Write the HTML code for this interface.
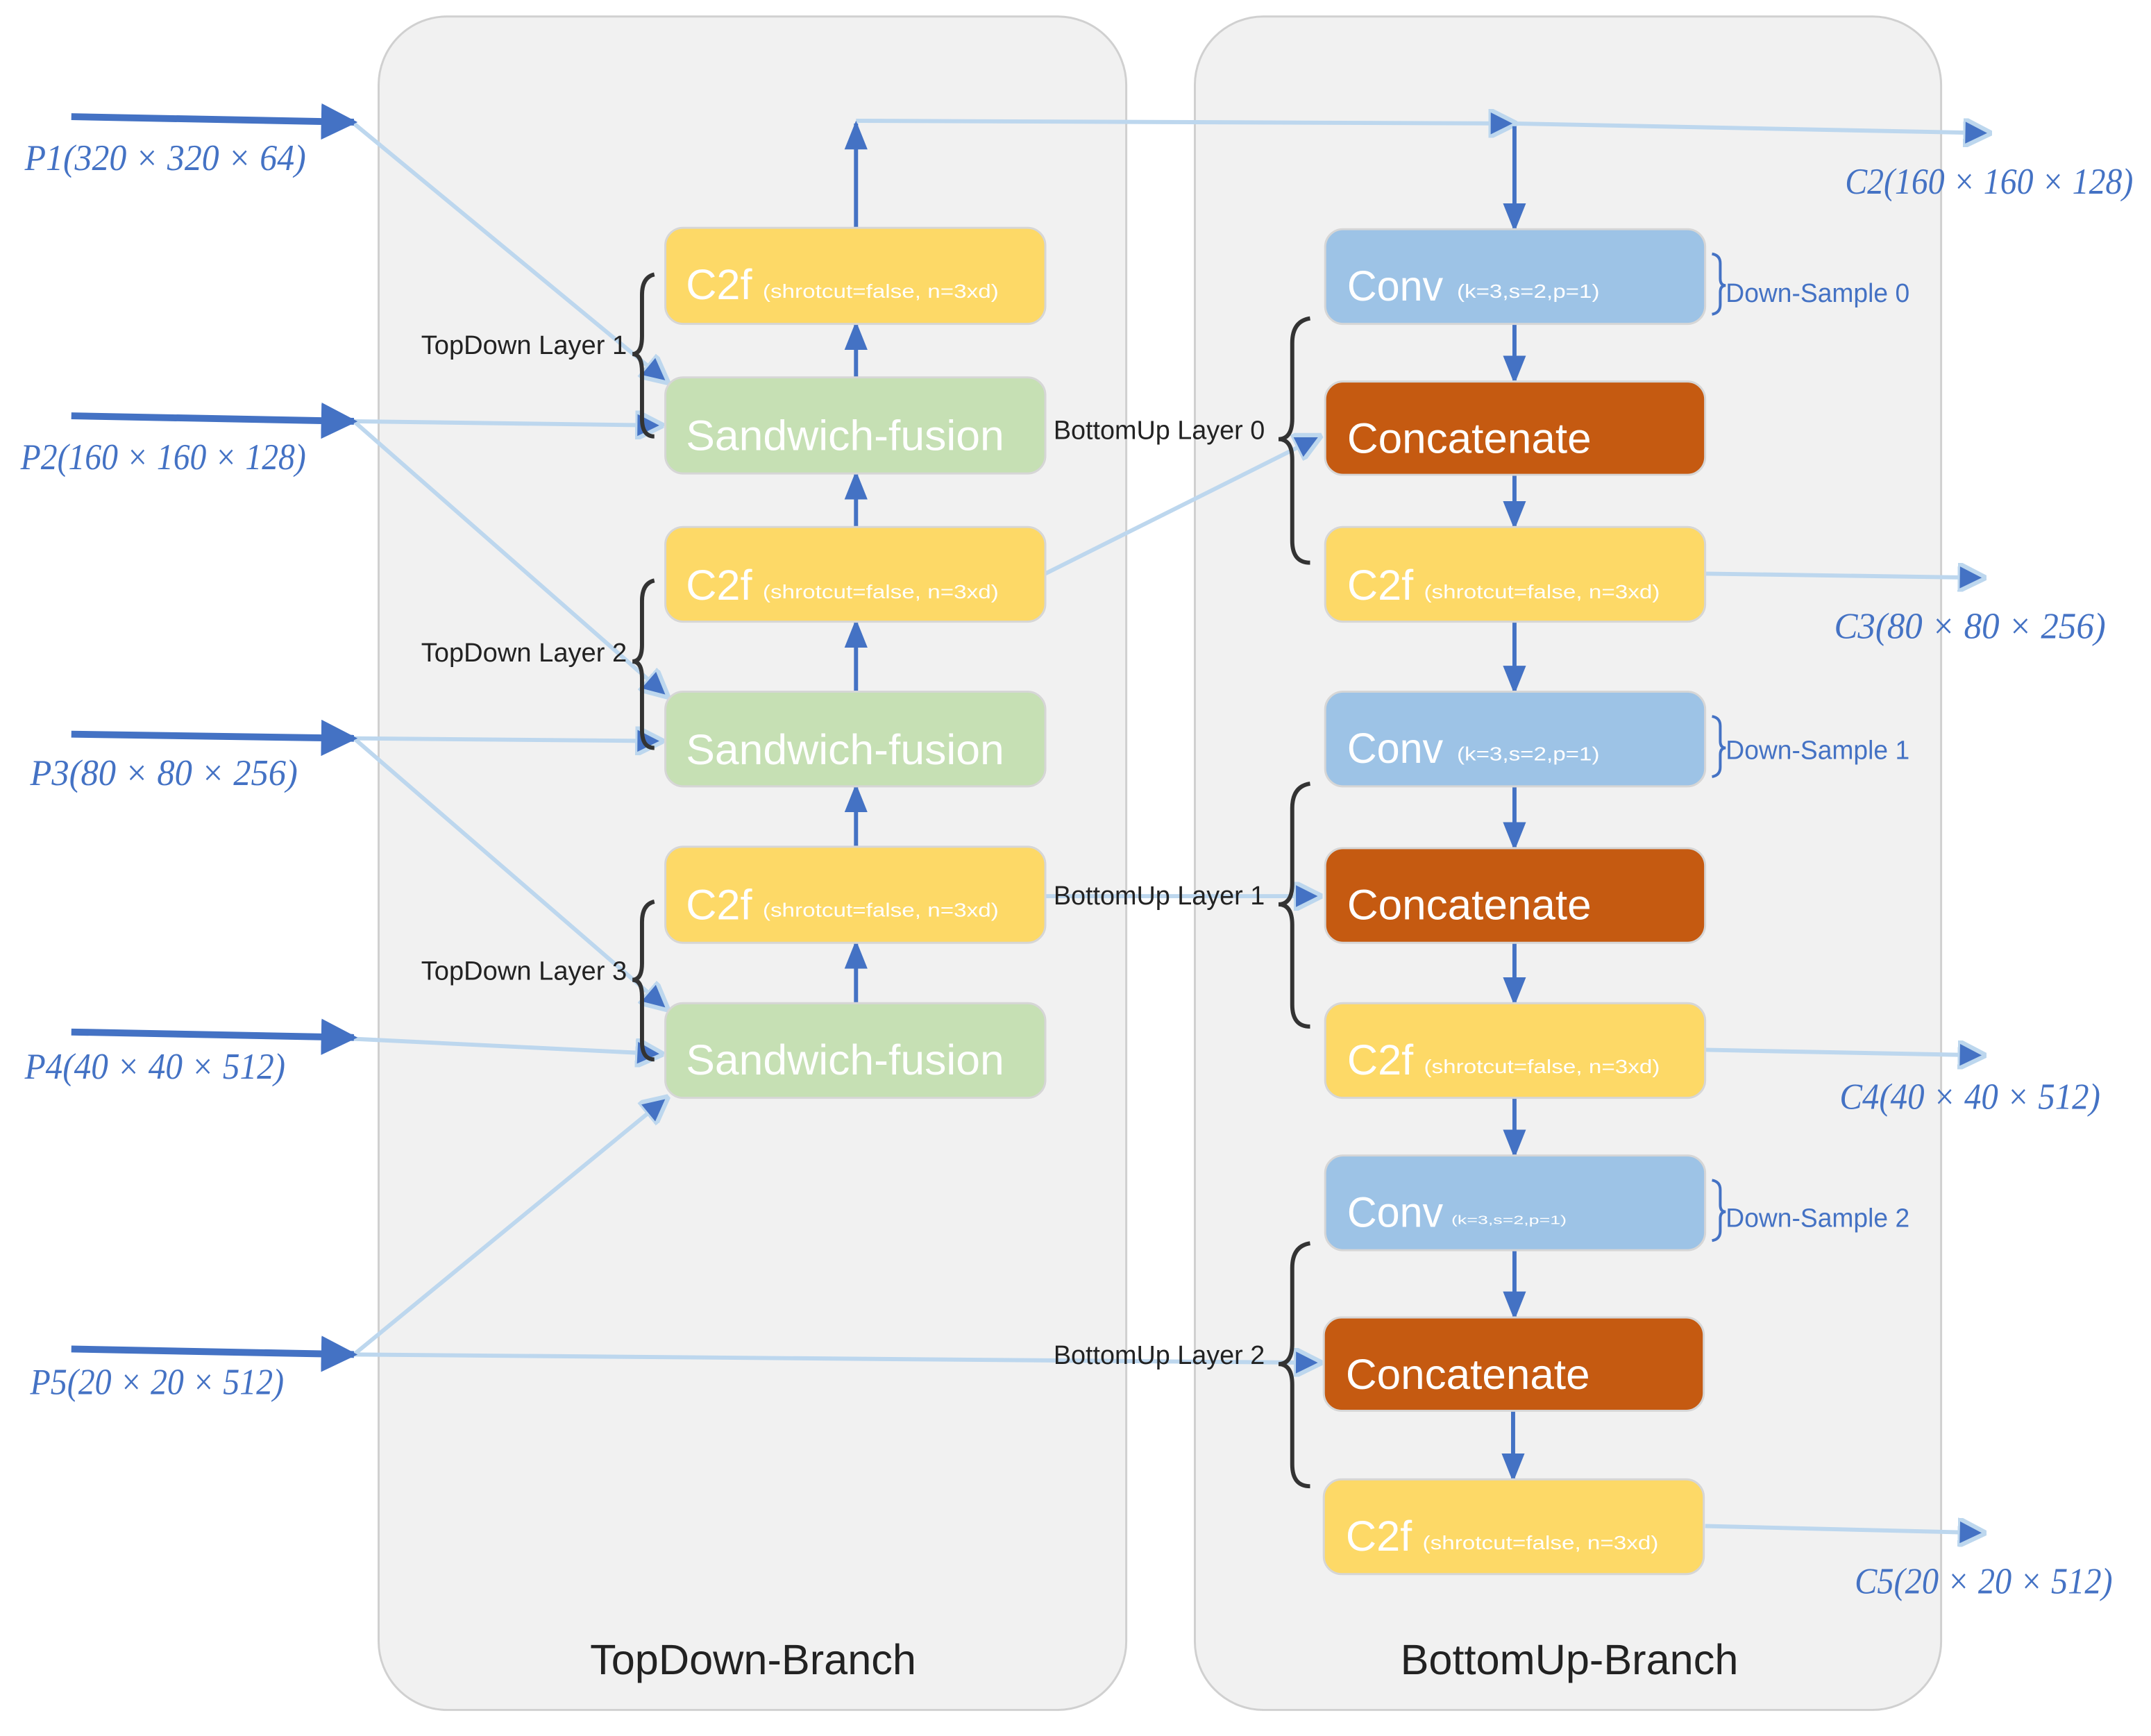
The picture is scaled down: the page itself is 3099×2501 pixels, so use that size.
<!DOCTYPE html>
<html><head><meta charset="utf-8"><style>html,body{margin:0;padding:0;background:#fff}svg{display:block}</style></head>
<body>
<svg width="3099" height="2501" viewBox="0 0 1568 1265" preserveAspectRatio="none" xmlns="http://www.w3.org/2000/svg" font-family="Liberation Sans, sans-serif">
<defs>
<marker id="ad" viewBox="0 0 10 10" refX="9" refY="5" markerWidth="5.3" markerHeight="5.3" orient="auto" markerUnits="strokeWidth"><path d="M0,0 L10,5 L0,10 z" fill="#4472c4"/></marker>
<marker id="al" viewBox="0 0 10 10" refX="9" refY="5" markerWidth="7" markerHeight="7" orient="auto" markerUnits="strokeWidth"><path d="M0,0 L10,5 L0,10 z" fill="#4472c4" stroke="#bdd7ee" stroke-width="1.5"/></marker>
<marker id="ab" viewBox="0 0 10 10" refX="9" refY="5" markerWidth="7" markerHeight="7" orient="auto" markerUnits="strokeWidth"><path d="M0,1 L10,5 L0,9 z" fill="#4472c4"/></marker>
</defs>
<rect x="276" y="12" width="545" height="1234" rx="50" fill="#f1f1f1" stroke="#d0d0d0" stroke-width="1.5"/>
<rect x="871" y="12" width="544" height="1234" rx="50" fill="#f1f1f1" stroke="#d0d0d0" stroke-width="1.5"/>
<text x="549" y="1220" font-size="31" text-anchor="middle" fill="#222">TopDown-Branch</text>
<text x="1144" y="1220" font-size="31" text-anchor="middle" fill="#222">BottomUp-Branch</text>

<g stroke="#bdd7ee" stroke-width="3" fill="none" marker-end="url(#al)">
<line x1="258" y1="90" x2="486" y2="278"/>
<line x1="258" y1="307" x2="482" y2="310"/>
<line x1="258" y1="307" x2="486" y2="507"/>
<line x1="258" y1="538" x2="482" y2="540"/>
<line x1="258" y1="538" x2="486" y2="735"/>
<line x1="258" y1="757" x2="482" y2="768"/>
<line x1="258" y1="987" x2="486" y2="800"/>
<line x1="258" y1="987" x2="962" y2="993"/>
<line x1="762" y1="418" x2="962" y2="318"/>
<line x1="762" y1="653" x2="962" y2="653"/>
<line x1="624" y1="88" x2="1104" y2="90"/>
<line x1="1104" y1="90" x2="1450" y2="97"/>
<line x1="1243" y1="418" x2="1446" y2="421"/>
<line x1="1243" y1="765" x2="1446" y2="769"/>
<line x1="1243" y1="1112" x2="1446" y2="1117"/>
</g>

<g stroke="#4472c4" stroke-width="5" marker-end="url(#ad)">
<line x1="52" y1="85" x2="258" y2="89"/>
<line x1="52" y1="303" x2="258" y2="307"/>
<line x1="52" y1="535" x2="258" y2="538"/>
<line x1="52" y1="752" x2="258" y2="756"/>
<line x1="52" y1="983" x2="258" y2="987"/>
</g>
<g fill="#4472c4" font-family="Liberation Serif, serif" font-style="italic" font-size="27">
<text x="18" y="124" textLength="205" lengthAdjust="spacingAndGlyphs">P1(320 × 320 × 64)</text>
<text x="15" y="342" textLength="208" lengthAdjust="spacingAndGlyphs">P2(160 × 160 × 128)</text>
<text x="22" y="572" textLength="195" lengthAdjust="spacingAndGlyphs">P3(80 × 80 × 256)</text>
<text x="18" y="786" textLength="190" lengthAdjust="spacingAndGlyphs">P4(40 × 40 × 512)</text>
<text x="22" y="1016" textLength="185" lengthAdjust="spacingAndGlyphs">P5(20 × 20 × 512)</text>
<text x="1345" y="141" textLength="210" lengthAdjust="spacingAndGlyphs">C2(160 × 160 × 128)</text>
<text x="1337" y="465" textLength="198" lengthAdjust="spacingAndGlyphs">C3(80 × 80 × 256)</text>
<text x="1341" y="808" textLength="190" lengthAdjust="spacingAndGlyphs">C4(40 × 40 × 512)</text>
<text x="1352" y="1161" textLength="188" lengthAdjust="spacingAndGlyphs">C5(20 × 20 × 512)</text>
</g>

<g stroke="#4472c4" stroke-width="3" marker-end="url(#ab)">
<line x1="624" y1="166" x2="624" y2="90"/>
<line x1="624" y1="275" x2="624" y2="236"/>
<line x1="624" y1="384" x2="624" y2="345"/>
<line x1="624" y1="504" x2="624" y2="453"/>
<line x1="624" y1="617" x2="624" y2="573"/>
<line x1="624" y1="731" x2="624" y2="687"/>
<line x1="1104" y1="92" x2="1104" y2="167"/>
<line x1="1104" y1="236" x2="1104" y2="278"/>
<line x1="1104" y1="346" x2="1104" y2="384"/>
<line x1="1104" y1="453" x2="1104" y2="504"/>
<line x1="1104" y1="573" x2="1104" y2="618"/>
<line x1="1104" y1="687" x2="1104" y2="731"/>
<line x1="1104" y1="800" x2="1104" y2="842"/>
<line x1="1104" y1="911" x2="1104" y2="960"/>
<line x1="1103" y1="1028" x2="1103" y2="1078"/>
</g>

<g stroke="#d6d6d6" stroke-width="1.5">
<rect x="485" y="166" width="277" height="70" rx="13" fill="#fdd967"/>
<rect x="485" y="275" width="277" height="70" rx="13" fill="#c6e0b4"/>
<rect x="485" y="384" width="277" height="69" rx="13" fill="#fdd967"/>
<rect x="485" y="504" width="277" height="69" rx="13" fill="#c6e0b4"/>
<rect x="485" y="617" width="277" height="70" rx="13" fill="#fdd967"/>
<rect x="485" y="731" width="277" height="69" rx="13" fill="#c6e0b4"/>
<rect x="966" y="167" width="277" height="69" rx="13" fill="#9dc3e6"/>
<rect x="966" y="278" width="277" height="68" rx="13" fill="#c55a11"/>
<rect x="966" y="384" width="277" height="69" rx="13" fill="#fdd967"/>
<rect x="966" y="504" width="277" height="69" rx="13" fill="#9dc3e6"/>
<rect x="966" y="618" width="277" height="69" rx="13" fill="#c55a11"/>
<rect x="966" y="731" width="277" height="69" rx="13" fill="#fdd967"/>
<rect x="966" y="842" width="277" height="69" rx="13" fill="#9dc3e6"/>
<rect x="965" y="960" width="277" height="68" rx="13" fill="#c55a11"/>
<rect x="965" y="1078" width="277" height="69" rx="13" fill="#fdd967"/>
</g>
<g fill="#fff">
<g font-size="31">
<text x="500" y="218">C2f</text>
<text x="500" y="437">C2f</text>
<text x="500" y="670">C2f</text>
<text x="500" y="328" textLength="232" lengthAdjust="spacingAndGlyphs">Sandwich-fusion</text>
<text x="500" y="557" textLength="232" lengthAdjust="spacingAndGlyphs">Sandwich-fusion</text>
<text x="500" y="783" textLength="232" lengthAdjust="spacingAndGlyphs">Sandwich-fusion</text>
<text x="982" y="219" textLength="70" lengthAdjust="spacingAndGlyphs">Conv</text>
<text x="982" y="556" textLength="70" lengthAdjust="spacingAndGlyphs">Conv</text>
<text x="982" y="894" textLength="70" lengthAdjust="spacingAndGlyphs">Conv</text>
<text x="982" y="330" textLength="178" lengthAdjust="spacingAndGlyphs">Concatenate</text>
<text x="982" y="670" textLength="178" lengthAdjust="spacingAndGlyphs">Concatenate</text>
<text x="981" y="1012" textLength="178" lengthAdjust="spacingAndGlyphs">Concatenate</text>
<text x="982" y="437">C2f</text>
<text x="982" y="783">C2f</text>
<text x="981" y="1130">C2f</text>
</g>
<g font-size="14">
<text x="556" y="217" textLength="172" lengthAdjust="spacingAndGlyphs">(shrotcut=false, n=3xd)</text>
<text x="556" y="436" textLength="172" lengthAdjust="spacingAndGlyphs">(shrotcut=false, n=3xd)</text>
<text x="556" y="668" textLength="172" lengthAdjust="spacingAndGlyphs">(shrotcut=false, n=3xd)</text>
<text x="1038" y="436" textLength="172" lengthAdjust="spacingAndGlyphs">(shrotcut=false, n=3xd)</text>
<text x="1038" y="782" textLength="172" lengthAdjust="spacingAndGlyphs">(shrotcut=false, n=3xd)</text>
<text x="1037" y="1129" textLength="172" lengthAdjust="spacingAndGlyphs">(shrotcut=false, n=3xd)</text>
<text x="1062" y="217" textLength="104" lengthAdjust="spacingAndGlyphs">(k=3,s=2,p=1)</text>
<text x="1062" y="554" textLength="104" lengthAdjust="spacingAndGlyphs">(k=3,s=2,p=1)</text>
<text x="1058" y="892" font-size="9" textLength="84" lengthAdjust="spacingAndGlyphs">(k=3,s=2,p=1)</text>
</g>
</g>

<g fill="none" stroke="#333" stroke-width="3">
<path d="M477,200 Q468,202 468,215 L468,245 Q468,258 461,258 Q468,258 468,271 L468,305 Q468,318 477,318"/>
<path d="M477,423 Q468,425 468,438 L468,470 Q468,482 461,482 Q468,482 468,494 L468,532 Q468,545 477,545"/>
<path d="M477,657 Q468,659 468,672 L468,702 Q468,714 461,714 Q468,714 468,726 L468,759 Q468,772 477,772"/>
<path d="M955,232 Q942,234 942,250 L942,305 Q942,320 932,320 Q942,320 942,335 L942,394 Q942,410 955,410"/>
<path d="M955,571 Q942,573 942,589 L942,644 Q942,659 932,659 Q942,659 942,674 L942,732 Q942,748 955,748"/>
<path d="M955,906 Q942,908 942,924 L942,979 Q942,994 932,994 Q942,994 942,1009 L942,1067 Q942,1083 955,1083"/>
</g>
<g fill="none" stroke="#4472c4" stroke-width="2">
<path d="M1248,185 Q1254,186 1254,192 L1254,203 Q1254,208 1258,208 Q1254,208 1254,213 L1254,222 Q1254,228 1248,229"/>
<path d="M1248,522 Q1254,523 1254,529 L1254,540 Q1254,545 1258,545 Q1254,545 1254,550 L1254,559 Q1254,565 1248,566"/>
<path d="M1248,860 Q1254,861 1254,867 L1254,878 Q1254,883 1258,883 Q1254,883 1254,888 L1254,897 Q1254,903 1248,904"/>
</g>
<g font-size="19" fill="#222">
<text x="457" y="258" text-anchor="end" textLength="150" lengthAdjust="spacingAndGlyphs">TopDown Layer 1</text>
<text x="457" y="482" text-anchor="end" textLength="150" lengthAdjust="spacingAndGlyphs">TopDown Layer 2</text>
<text x="457" y="714" text-anchor="end" textLength="150" lengthAdjust="spacingAndGlyphs">TopDown Layer 3</text>
<text x="768" y="320" textLength="154" lengthAdjust="spacingAndGlyphs">BottomUp Layer 0</text>
<text x="768" y="659" textLength="154" lengthAdjust="spacingAndGlyphs">BottomUp Layer 1</text>
<text x="768" y="994" textLength="154" lengthAdjust="spacingAndGlyphs">BottomUp Layer 2</text>
</g>
<g font-size="19" fill="#4472c4">
<text x="1258" y="220" textLength="134" lengthAdjust="spacingAndGlyphs">Down-Sample 0</text>
<text x="1258" y="553" textLength="134" lengthAdjust="spacingAndGlyphs">Down-Sample 1</text>
<text x="1258" y="894" textLength="134" lengthAdjust="spacingAndGlyphs">Down-Sample 2</text>
</g>
</svg>
</body></html>
